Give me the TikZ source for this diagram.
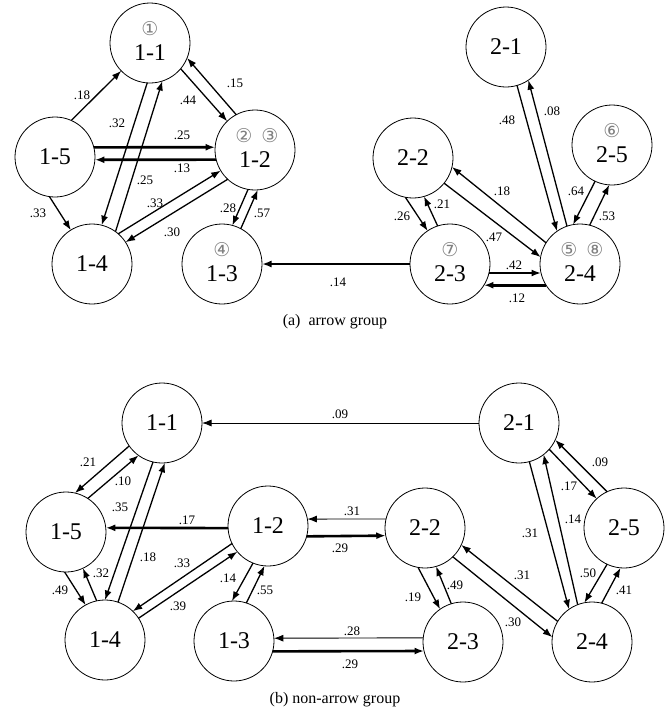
\documentclass[tikz,border=0pt]{standalone}
\usepackage{fontspec}
\setmainfont{Liberation Serif}
\newfontfamily\tnr{Liberation Serif}
\newfontfamily\cnfont{DejaVu Sans}
\usetikzlibrary{arrows.meta}
\tikzset{
  st/.style={circle, draw, line width=0.8pt, minimum size=80pt, inner sep=0pt, outer sep=0pt,
    font=\tnr\fontsize{24}{25}\selectfont},
  stc/.style={st, text height=34pt, text depth=0pt},
  cn/.style={text=black!50, font=\cnfont\fontsize{19}{19}\selectfont, inner sep=0pt},
  ed/.style={line width=1.3pt, -{Latex[length=9.5pt,width=7pt]}},
  thk/.style={line width=2.6pt},
  thn/.style={line width=0.9pt},
  lb/.style={font=\tnr\fontsize{13}{14}\selectfont, inner sep=0pt},
  captxt/.style={font=\tnr\fontsize{16}{17}\selectfont, inner sep=0pt}
}
\begin{document}
\begin{tikzpicture}[x=1pt,y=-1pt]
\useasboundingbox (0,0) rectangle (671,716);
% ---------- (a) ----------
\node[stc, label={[cn,yshift=14pt]center:①}] (A11) at (150,43) {1-1};
\node[st] (A15) at (55,157) {1-5};
\node[stc, label={[cn,yshift=14pt,xshift=2pt]center:②\hspace{9pt}③}] (A12) at (255,150) {1-2};
\node[st] (A14) at (92,264) {1-4};
\node[stc, label={[cn,yshift=14pt]center:④}] (A13) at (222,264) {1-3};
\node[st] (A21) at (506,47) {2-1};
\node[st] (A22) at (413,158) {2-2};
\node[stc, label={[cn,yshift=14pt]center:⑥}] (A25) at (612,145) {2-5};
\node[stc, label={[cn,yshift=14pt]center:⑦}] (A23) at (450,264) {2-3};
\node[stc, label={[cn,yshift=14pt,xshift=2pt]center:⑤\hspace{9pt}⑧}] (A24) at (580,264) {2-4};

\draw[ed] (A15.66) -- (A11.224);
\draw[ed] (A11.266) -- (A14.76);
\draw[ed] (A14.54) -- (A11.288);
\draw[ed] (A11.320) -- (A12.134);
\draw[ed] (A12.118) -- (A11.338);
\draw[ed,thk] (A15.14) -- (A12.176);
\draw[ed,thk] (A12.194) -- (A15.356);
\draw[ed] (A15.262) -- (A14.122);
\draw[ed] (A14.49) -- (A12.211);
\draw[ed] (A12.227) -- (A14.33);
\draw[ed] (A12.260) -- (A13.75);
\draw[ed] (A13.62) -- (A12.274);
\draw[ed,thk] (A23.west) -- (A13.east);
\draw[ed] (A21.286) -- (A24.125);
\draw[ed] (A24.109) -- (A21.304);
\draw[ed] (A25.245) -- (A24.100);
\draw[ed] (A24.76) -- (A25.266);
\draw[ed] (A24.148) -- (A22.347);
\draw[ed] (A22.321) -- (A24.170);
\draw[ed] (A22.259) -- (A23.124);
\draw[ed] (A23.108) -- (A22.286);
\draw[ed,thk] (A23.347) -- (A24.193);
\draw[ed,thk] (A24.212) -- (A23.328);

\node[lb] (la1) at (82,95) {.18};
\node[lb] (la2) at (117,123) {.32};
\node[lb] (la3) at (188,100) {.44};
\node[lb] (la4) at (235,83) {.15};
\node[lb] (la5) at (182,135) {.25};
\node[lb] (la6) at (182,168) {.13};
\node[lb] (la7) at (145,180) {.25};
\node[lb] (la8) at (38,213) {.33};
\node[lb] (la9) at (155,203) {.33};
\node[lb] (la10) at (172,232) {.30};
\node[lb] (la11) at (228,208) {.28};
\node[lb] (la12) at (262,213) {.57};
\node[lb] (la13) at (338,282) {.14};
\node[lb] (la14) at (507,120) {.48};
\node[lb] (la15) at (552,111) {.08};
\node[lb] (la16) at (576,191) {.64};
\node[lb] (la17) at (607,216) {.53};
\node[lb] (la18) at (502,191) {.18};
\node[lb] (la19) at (494,237) {.47};
\node[lb] (la20) at (402,216) {.26};
\node[lb] (la21) at (442,204) {.21};
\node[lb] (la22) at (514,265) {.42};
\node[lb] (la23) at (517,298) {.12};
\node[captxt] (capa) at (335,322) {(a)\enspace arrow group};

% ---------- (b) ----------
\node[st] (B11) at (162,423) {1-1};
\node[st] (B15) at (66,532) {1-5};
\node[st] (B12) at (268,526) {1-2};
\node[st] (B14) at (105,640) {1-4};
\node[st] (B13) at (234,641) {1-3};
\node[st] (B21) at (519,423) {2-1};
\node[st] (B22) at (425,528) {2-2};
\node[st] (B25) at (624,528) {2-5};
\node[st] (B23) at (463,642) {2-3};
\node[st] (B24) at (592,642) {2-4};

\draw[ed,thn] (B21.west) -- (B11.east);
\draw[ed] (B11.215) -- (B15.77);
\draw[ed] (B15.57) -- (B11.234);
\draw[ed] (B11.257) -- (B14.90);
\draw[ed] (B14.71) -- (B11.274);
\draw[ed,thk] (B12.183) -- (B15.6);
\draw[ed] (B15.268) -- (B14.119);
\draw[ed] (B14.102) -- (B15.295);
\draw[ed] (B12.206) -- (B14.46);
\draw[ed] (B14.33) -- (B12.220);
\draw[ed] (B12.248) -- (B13.93);
\draw[ed] (B13.72) -- (B12.265);
\draw[ed,thn] (B22.167) -- (B12.10);
\draw[ed,thk] (B12.345) -- (B22.191);
\draw[ed,thn] (B23.174) -- (B13.4);
\draw[ed,thk] (B13.345) -- (B23.193);
\draw[ed] (B22.260) -- (B23.125);
\draw[ed] (B23.107) -- (B22.286);
\draw[ed] (B24.149) -- (B22.335);
\draw[ed] (B22.314) -- (B24.173);
\draw[ed] (B21.285) -- (B24.125);
\draw[ed] (B24.111) -- (B21.308);
\draw[ed] (B21.319) -- (B25.133);
\draw[ed] (B25.115) -- (B21.335);
\draw[ed] (B25.245) -- (B24.101);
\draw[ed] (B24.76) -- (B25.265);

\node[lb] (lb1) at (340,414) {.09};
\node[lb] (lb2) at (88,462) {.21};
\node[lb] (lb3) at (123,481) {.10};
\node[lb] (lb4) at (120,507) {.35};
\node[lb] (lb5) at (187,520) {.17};
\node[lb] (lb6) at (148,557) {.18};
\node[lb] (lb7) at (182,563) {.33};
\node[lb] (lb8) at (60,590) {.49};
\node[lb] (lb9) at (101,573) {.32};
\node[lb] (lb10) at (228,578) {.14};
\node[lb] (lb11) at (265,590) {.55};
\node[lb] (lb12) at (178,606) {.39};
\node[lb] (lb13) at (352,511) {.31};
\node[lb] (lb14) at (340,548) {.29};
\node[lb] (lb15) at (352,631) {.28};
\node[lb] (lb16) at (350,664) {.29};
\node[lb] (lb17) at (413,597) {.19};
\node[lb] (lb18) at (455,585) {.49};
\node[lb] (lb19) at (600,462) {.09};
\node[lb] (lb20) at (569,486) {.17};
\node[lb] (lb21) at (530,533) {.31};
\node[lb] (lb22) at (573,519) {.14};
\node[lb] (lb23) at (522,575) {.31};
\node[lb] (lb24) at (513,622) {.30};
\node[lb] (lb25) at (588,573) {.50};
\node[lb] (lb26) at (624,590) {.41};
\node[captxt] (capb) at (335,700) {(b) non-arrow group};
\end{tikzpicture}
\end{document}
